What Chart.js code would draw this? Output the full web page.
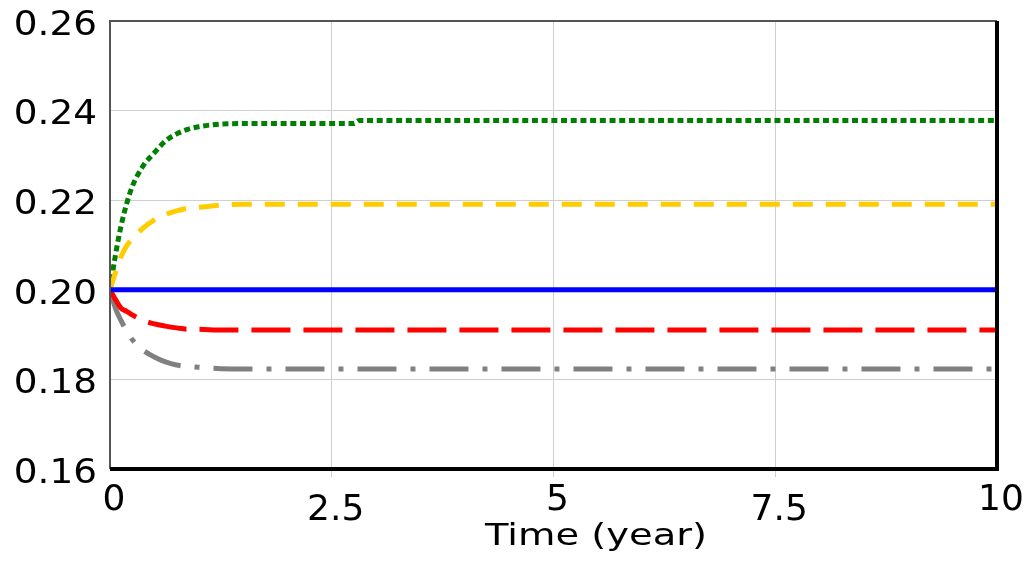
<!DOCTYPE html>
<html>
<head>
<meta charset="utf-8">
<script src="https://cdn.jsdelivr.net/npm/chart.js"></script>
<style>
  body { margin: 0; background: #fff; }
  #wrap { width: 1036px; height: 569px; position: relative; }
</style>
</head>
<body>
<div id="wrap"><canvas id="simChart"></canvas></div>
<script>
// Time grid (year) shared by all runs
const times = [0, 0.0625, 0.125, 0.1875, 0.25, 0.375, 0.5, 0.625, 0.75, 0.875, 1, 1.25, 1.5, 2, 2.5, 2.75, 2.8125, 3, 5, 7.5, 10];

// Run values
const greenRun  = [0.200, 0.2079, 0.2143, 0.2192, 0.2230, 0.2277, 0.2306, 0.2332, 0.2348, 0.2358, 0.2364, 0.2370, 0.2371, 0.2371, 0.2371, 0.2371, 0.2378, 0.2378, 0.2378, 0.2378, 0.2378];
const yellowRun = [0.200, 0.2039, 0.2074, 0.2098, 0.2114, 0.2138, 0.2156, 0.2168, 0.2176, 0.2182, 0.2184, 0.2189, 0.2191, 0.2191, 0.2191, 0.2191, 0.2191, 0.2191, 0.2191, 0.2191, 0.2191];
const blueRun   = [0.200, 0.200, 0.200, 0.200, 0.200, 0.200, 0.200, 0.200, 0.200, 0.200, 0.200, 0.200, 0.200, 0.200, 0.200, 0.200, 0.200, 0.200, 0.200, 0.200, 0.200];
const redRun    = [0.200, 0.1978, 0.1959, 0.1952, 0.1944, 0.1932, 0.1924, 0.1919, 0.1915, 0.1912, 0.1912, 0.1910, 0.1910, 0.1910, 0.1910, 0.1910, 0.1910, 0.1910, 0.1910, 0.1910, 0.1910];
const grayRun   = [0.200, 0.1958, 0.1931, 0.1908, 0.1889, 0.1865, 0.1850, 0.1839, 0.1832, 0.1829, 0.1827, 0.1824, 0.1823, 0.1823, 0.1823, 0.1823, 0.1823, 0.1823, 0.1823, 0.1823, 0.1823];

// Axis ticks
const xTicks = [0, 2.5, 5, 7.5, 10];
const xTickLabels = ['0', '2.5', '5', '7.5', '10'];
const yTicks = [0.16, 0.18, 0.20, 0.22, 0.24, 0.26];
const yTickLabels = ['0.16', '0.18', '0.20', '0.22', '0.24', '0.26'];
const xTitle = 'Time (year)';

const toPoints = (vals) => vals.map((v, i) => ({ x: times[i], y: v }));

const makeRun = (label, vals, color, dash) => ({
    label: label,
    data: toPoints(vals),
    borderColor: color,
    borderWidth: 5,
    borderDash: dash,
    borderCapStyle: 'butt',
    pointRadius: 0,
    fill: false,
    tension: 0,
    cubicInterpolationMode: 'monotone'
});

// Draws the frame and the tick labels the way the original tool does
const framePlugin = {
    id: 'frame',
    afterDraw(chart) {
        const { ctx, chartArea: a, scales } = chart;
        ctx.save();
        // thin top/left, heavy right/bottom
        ctx.strokeStyle = '#555';
        ctx.lineWidth = 2;
        ctx.beginPath();
        ctx.moveTo(a.left, a.bottom);
        ctx.lineTo(a.left, a.top);
        ctx.lineTo(a.right, a.top);
        ctx.stroke();
        ctx.strokeStyle = '#000';
        ctx.lineWidth = 4;
        ctx.beginPath();
        ctx.moveTo(a.left, a.bottom);
        ctx.lineTo(a.right, a.bottom);
        ctx.lineTo(a.right, a.top);
        ctx.stroke();

        ctx.fillStyle = '#000';
        ctx.textBaseline = 'middle';

        // y labels, slightly wide
        ctx.font = '34px "DejaVu Sans"';
        ctx.textAlign = 'right';
        yTicks.forEach((v, i) => {
            const y = scales.y.getPixelForValue(v) + 5;
            ctx.save();
            ctx.translate(97, y);
            ctx.scale(1.1, 1);
            ctx.fillText(yTickLabels[i], 0, 0);
            ctx.restore();
        });

        // x labels, every other one dropped a little
        ctx.font = '36px "DejaVu Sans"';
        ctx.textAlign = 'center';
        xTicks.forEach((v, i) => {
            const x = scales.x.getPixelForValue(v) + 4;
            const y = i % 2 ? 511 : 501;
            ctx.fillText(xTickLabels[i], x, y);
        });

        // axis title
        ctx.font = '31px "DejaVu Sans"';
        ctx.textBaseline = 'alphabetic';
        ctx.save();
        ctx.translate(596, 545);
        ctx.scale(1.24, 1);
        ctx.fillText(xTitle, 0, 0);
        ctx.restore();
        ctx.restore();
    }
};

const ctx = document.getElementById('simChart').getContext('2d');
const chart = new Chart(ctx, {
    type: 'line',
    data: {
        datasets: [
            makeRun('Run 1', blueRun, '#0000ff', []),
            makeRun('Run 2', redRun, '#ff0000', [39, 13]),
            makeRun('Run 3', grayRun, '#808080', [39, 14, 5, 14]),
            makeRun('Run 4', yellowRun, '#ffcc00', [20, 13]),
            makeRun('Run 5', greenRun, '#008000', [6, 3.7])
        ]
    },
    options: {
        responsive: true,
        maintainAspectRatio: false,
        animation: false,
        layout: { padding: { left: 110, top: 21, right: 39, bottom: 92 } },
        plugins: {
            legend: { display: false },
            tooltip: { enabled: false }
        },
        scales: {
            x: {
                type: 'linear',
                min: 0,
                max: 10,
                afterBuildTicks: (scale) => { scale.ticks = xTicks.map(v => ({ value: v })); },
                ticks: { display: false },
                grid: {
                    color: (c) => (c.tick && (c.tick.value === 0 || c.tick.value === 10)) ? 'rgba(0,0,0,0)' : '#cfcfcf',
                    lineWidth: 1,
                    drawTicks: true,
                    tickLength: 8
                },
                border: { display: false }
            },
            y: {
                min: 0.16,
                max: 0.26,
                afterBuildTicks: (scale) => { scale.ticks = yTicks.map(v => ({ value: v })); },
                ticks: { display: false },
                grid: {
                    color: '#cfcfcf',
                    lineWidth: 1,
                    drawTicks: false
                },
                border: { display: false }
            }
        }
    },
    plugins: [framePlugin]
});
</script>
</body>
</html>
